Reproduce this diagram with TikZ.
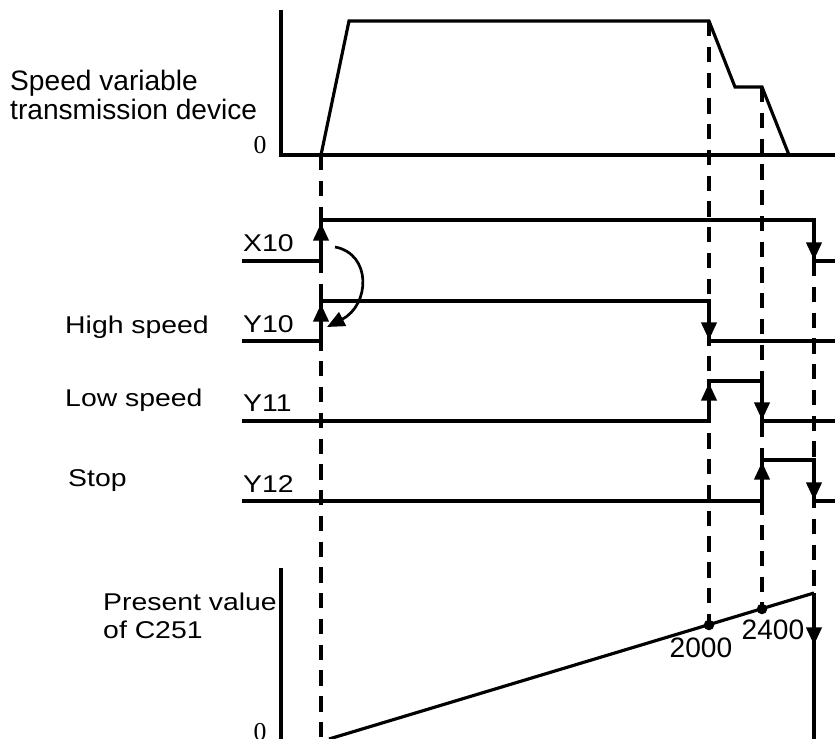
\documentclass[tikz,border=0pt]{standalone}
\usepackage{fontspec}
\setmainfont{Liberation Sans}
\newfontfamily\widefont[FakeStretch=1.17]{Liberation Sans}
\newfontfamily\numfont{Liberation Serif}
\usetikzlibrary{arrows.meta}

\begin{document}
\begin{tikzpicture}[x=0.03cm, y=-0.03cm,
	every node/.style={inner sep=0pt, font=\fontsize{24}{29}\selectfont},
	wide/.style={font=\widefont\fontsize{20.7}{25}\selectfont},
	zero/.style={font=\numfont\fontsize{22}{22}\selectfont},
	sig/.style={line width=2.7pt},
	guide/.style={line width=3.4pt, dash pattern=on 13pt off 9pt},
	edge/.style={line width=2.7pt, -{Triangle[length=15pt,width=13pt]}}]
	\useasboundingbox (0,0) rectangle (835,739);
	% speed of the transmission device
	\draw[sig] (281,10) -- (281,155) -- (835,155);
	\draw[sig] (321,155) -- (349,21) -- (709,21) -- (735,87) -- (762,87) -- (789,155);
	\node[anchor=base west] (spd1) at (10,91) {Speed variable};
	\node[anchor=base west] (spd2) at (10,120) {transmission device};
	\node[zero, anchor=base] (zt) at (260,154) {0};
	% guide lines
	\draw[guide] (321,155) -- (321,739);
	\draw[guide] (709,21) -- (709,625);
	\draw[guide] (762,87) -- (762,609);
	\draw[guide] (814,261) -- (814,593);
	% X10
	\draw[sig] (242,261) -- (321,261) -- (321,220) -- (814,220) -- (814,261) -- (835,261);
	\draw[edge] (321,261) -- (321,223);
	\draw[edge] (814,220) -- (814,260);
	\node[wide, anchor=base west] (x10) at (243,252) {X10};
	% Y10
	\draw[sig] (242,341) -- (321,341) -- (321,301) -- (709,301) -- (709,341) -- (835,341);
	\draw[edge] (321,341) -- (321,304);
	\draw[edge] (709,301) -- (709,340);
	\node[wide, anchor=base west] (y10) at (243,333) {Y10};
	\node[wide, anchor=base west] (hi) at (65,334) {High speed};
	% Y11
	\draw[sig] (242,421) -- (709,421) -- (709,381) -- (762,381) -- (762,421) -- (835,421);
	\draw[edge] (709,421) -- (709,383);
	\draw[edge] (762,381) -- (762,420);
	\node[wide, anchor=base west] (y11) at (243,412) {Y11};
	\node[wide, anchor=base west] (lo) at (65,407) {Low speed};
	% Y12
	\draw[sig] (242,501) -- (762,501) -- (762,460) -- (814,460) -- (814,501) -- (835,501);
	\draw[edge] (762,501) -- (762,462);
	\draw[edge] (814,460) -- (814,500);
	\node[wide, anchor=base west] (y12) at (243,492) {Y12};
	\node[wide, anchor=base west] (stp) at (68,486) {Stop};
	% X10 drives Y10
	\draw[line width=2.3pt, -{Triangle[length=15pt,width=13pt]}] (335,247) .. controls (372,254) and (370,305) .. (327,327);
	% present value of C251
	\draw[sig] (281,568) -- (281,739);
	\draw[sig] (329,739) -- (814,593);
	\draw[edge] (814,593) -- (814,645);
	\draw[sig] (814,640) -- (814,739);
	\fill (709,625) circle (4.5pt);
	\fill (762,609) circle (4.5pt);
	\node[anchor=base] (c2000) at (701,657) {2000};
	\node[anchor=base] (c2400) at (773,639) {2400};
	\node[wide, anchor=base west] (pv1) at (103,610) {Present value};
	\node[wide, anchor=base west] (pv2) at (103,638) {of C251};
	\node[zero, anchor=base] (zb) at (260,740) {0};
\end{tikzpicture}
\end{document}
